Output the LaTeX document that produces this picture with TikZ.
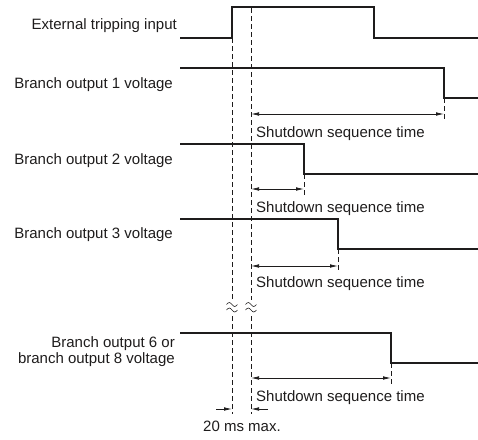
\documentclass[tikz,border=0pt]{standalone}
\usepackage{fontspec}
\setmainfont{Liberation Sans}
\usetikzlibrary{arrows.meta}
\definecolor{ink}{RGB}{30,28,28}
\begin{document}
\begin{tikzpicture}[x=1pt,y=-1pt, color=ink,
  sig/.style={line width=1.4pt, line join=miter},
  guide/.style={line width=0.75pt, dash pattern=on 5pt off 3pt},
  dim/.style={line width=0.75pt, {Latex[length=8pt,width=3.6pt]}-{Latex[length=8pt,width=3.6pt]}},
  lbl/.style={inner sep=0pt, anchor=base east, font=\fontsize{15}{16.5}\selectfont},
  tlbl/.style={inner sep=0pt, anchor=base west, font=\fontsize{15}{16.5}\selectfont},
  brk/.style={line width=0.6pt}]
\useasboundingbox (0,0) rectangle (478,439);
% labels
\node[lbl] (l0) at (177,29) {External tripping input};
\node[lbl] (l1) at (173,88) {Branch output 1 voltage};
\node[lbl] (l2) at (173,164) {Branch output 2 voltage};
\node[lbl] (l3) at (173,238) {Branch output 3 voltage};
\node[lbl, align=right, anchor=north east] (l6) at (175,336) {Branch output 6 or\\branch output 8 voltage};
% signals
\draw[sig] (180,38) -- (232,38) -- (232,7) -- (374,7) -- (374,38) -- (478,38);
\draw[sig] (180,68) -- (444,68) -- (444,98) -- (478,98);
\draw[sig] (180,144) -- (304,144) -- (304,174) -- (478,174);
\draw[sig] (180,219) -- (338,219) -- (338,249) -- (478,249);
\draw[sig] (180,333) -- (391,333) -- (391,363) -- (478,363);
% guide dashed lines
\draw[guide] (232,38) -- (232,300) (232,316) -- (232,414);
\draw[guide] (251,8) -- (251,300) (251,316) -- (251,414);
\coordinate (e1) at (444,98); \coordinate (e2) at (304,174);
\coordinate (e3) at (338,249); \coordinate (e6) at (391,363);
\draw[guide] (e1) -- (444,120);
\draw[guide] (e2) -- (304,195);
\draw[guide] (e3) -- (338,271);
\draw[guide] (e6) -- (391,385);
% break marks
\foreach \xx in {232,251}{
  \foreach \yy in {304.5,310}{
    \draw[brk] (\xx-5.5,\yy) sin (\xx-2.75,\yy-2) cos (\xx,\yy) sin (\xx+2.75,\yy+2) cos (\xx+5.5,\yy);
  }
}
% dimension arrows
\coordinate (a1) at (251,114); \coordinate (b1) at (444,114);
\coordinate (a2) at (251,189); \coordinate (b2) at (304,189);
\coordinate (a3) at (251,266); \coordinate (b3) at (338,266);
\coordinate (a6) at (251,378); \coordinate (b6) at (391,378);
\draw[dim] (a1) -- (b1);
\draw[dim] (a2) -- (b2);
\draw[dim] (a3) -- (b3);
\draw[dim] (a6) -- (b6);
\node[tlbl] (s1) at (256,137) {Shutdown sequence time};
\node[tlbl] (s2) at (256,212) {Shutdown sequence time};
\node[tlbl] (s3) at (256,287) {Shutdown sequence time};
\node[tlbl] (s6) at (256,401) {Shutdown sequence time};
% 20 ms
\coordinate (m0) at (216,409); \coordinate (m1) at (232,409);
\coordinate (m2) at (251,409); \coordinate (m3) at (268,409);
\draw[line width=0.75pt, -{Latex[length=8pt,width=3.6pt]}] (m0) -- (m1);
\draw[line width=0.75pt, -{Latex[length=8pt,width=3.6pt]}] (m3) -- (m2);
\node[tlbl] (ms) at (203,431) {20 ms max.};
\end{tikzpicture}
\end{document}
